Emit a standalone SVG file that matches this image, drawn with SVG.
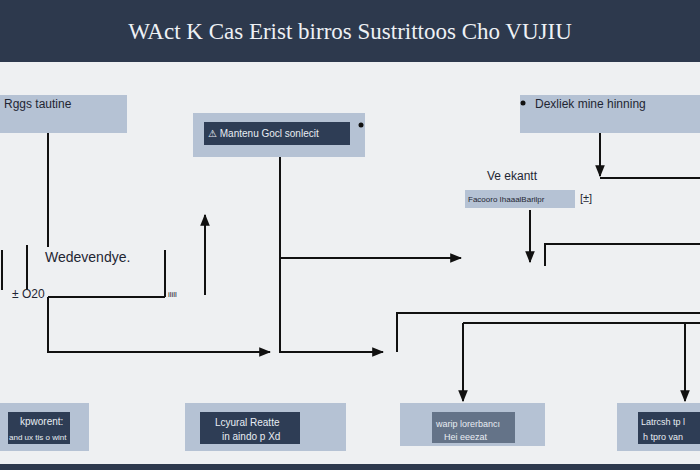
<svg xmlns="http://www.w3.org/2000/svg" width="700" height="470" viewBox="0 0 700 470">
<defs>
<marker id="ah" viewBox="0 0 10 10" refX="9" refY="5" markerWidth="6" markerHeight="6" orient="auto-start-reverse"><path d="M0,1 L10,5 L0,9 z" fill="#111"/></marker>
<style>
.n{fill:#b5c2d4}
.d{fill:#2e3d55}
.t{font-family:"Liberation Sans",Arial,sans-serif;font-size:12px;fill:#1f2633}
.w{font-family:"Liberation Sans",Arial,sans-serif;font-size:10px;fill:#e8edf3}
.c{fill:none;stroke:#111;stroke-width:2}
</style>
</defs>
<rect width="700" height="470" fill="#eef0f2"/>
<rect width="700" height="62" fill="#2d394d"/>
<rect y="464" width="700" height="6" fill="#2d394d"/>
<text x="350" y="39" text-anchor="middle" font-family="Liberation Serif,serif" font-size="23" fill="#eef1f5">WAct K Cas Erist birros Sustrittoos Cho VUJIU</text>
<g id="connectors">
<path class="c" d="M48,130 V247"/>
<path class="c" d="M2,250 V290 M27,245 V290 M165,250 V297 M48,297 H165"/>
<path class="c" marker-end="url(#ah)" d="M205,295 V215"/>
<path class="c" marker-end="url(#ah)" d="M48,297 V352 H270"/>
<path class="c" marker-end="url(#ah)" d="M280,153 V352 H383"/>
<path class="c" marker-end="url(#ah)" d="M280,258 H461"/>
<path class="c" marker-end="url(#ah)" d="M600,133 V176"/>
<path class="c" d="M600,178 H700"/>
<path class="c" marker-end="url(#ah)" d="M530,210 V262"/>
<path class="c" d="M545,266 V244 H700"/>
<path class="c" d="M397,352 V313 H700"/>
<path class="c" marker-end="url(#ah)" d="M463,323 V401"/>
<path class="c" d="M463,323 H700"/>
<path class="c" marker-end="url(#ah)" d="M685,323 V401"/>
</g>
<g id="n1"><rect class="n" x="0" y="95" width="127" height="38"/><text class="t" x="4" y="108">Rggs tautine</text></g>
<g id="n2"><rect class="n" x="193" y="113" width="172" height="44"/><rect class="d" x="204" y="122" width="146" height="23"/><text class="w" x="208" y="137">⚠ Mantenu Gocl sonlecit</text><circle cx="361" cy="125" r="2.5" fill="#111"/></g>
<g id="n3"><rect class="n" x="520" y="95" width="180" height="38"/><circle cx="523" cy="103" r="2.5" fill="#111"/><text class="t" x="535" y="108">Dexliek mine hinning</text></g>
<g id="n4"><text class="t" x="487" y="180">Ve ekantt</text><rect class="n" x="465" y="190" width="110" height="18"/><text class="t" x="468" y="202" style="font-size:8px">Facooro IhaaalBarilpr</text><text class="t" x="580" y="202" style="font-size:11px">[±]</text></g>
<g id="labels"><text class="t" x="45" y="262" style="font-size:14px">Wedevendye.</text><text class="t" x="12" y="298">± O20</text><text class="t" x="168" y="297" style="font-size:8px">ilill</text></g>
<g id="b1"><rect class="n" x="0" y="403" width="89" height="48"/><rect class="d" x="8" y="412" width="62" height="32"/><text class="w" x="20" y="425">kpworent:</text><text class="w" x="9" y="440" style="font-size:8px">and ux tis o wint</text></g>
<g id="b2"><rect class="n" x="185" y="403" width="161" height="48"/><rect class="d" x="200" y="412" width="100" height="32"/><text class="w" x="215" y="426">Lcyural Reatte</text><text class="w" x="222" y="440">in aindo p Xd</text></g>
<g id="b3"><rect class="n" x="400" y="403" width="145" height="43"/><rect class="d" x="432" y="412" width="83" height="31" opacity="0.6"/><text class="w" x="436" y="427" style="font-size:9px">warip lorerbancı</text><text class="w" x="444" y="440" style="font-size:9px">Hei eeezat</text></g>
<g id="b4"><rect class="n" x="617" y="403" width="83" height="48"/><rect class="d" x="638" y="412" width="62" height="32"/><text class="w" x="641" y="425" style="font-size:9px">Latrcsh tp l</text><text class="w" x="643" y="440" style="font-size:9px">h tpro van</text></g>
</svg>
